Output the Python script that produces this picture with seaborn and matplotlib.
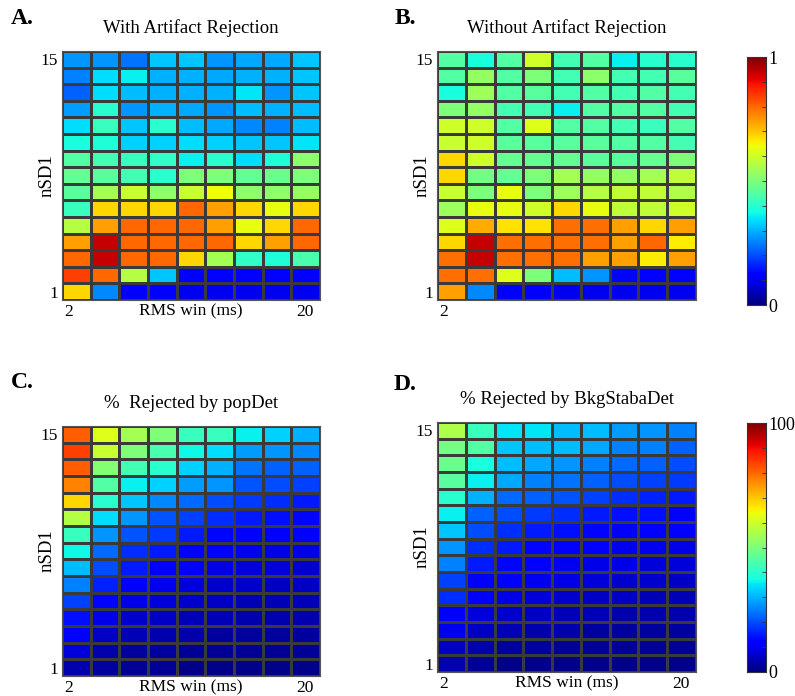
import matplotlib
matplotlib.use('Agg')
import matplotlib.pyplot as plt
import numpy as np
import pandas as pd
import seaborn as sns

plt.rcParams['font.family'] = ['Liberation Serif', 'DejaVu Serif']

# 行: nSD1 从 15 (上) 到 1 (下); 列: RMS win
nsd1 = list(range(15, 0, -1))
x_labels = ['2', '20']

with_rejection = [
    [0.27, 0.27, 0.24, 0.32, 0.32, 0.27, 0.29, 0.29, 0.32],
    [0.25, 0.34, 0.36, 0.30, 0.30, 0.29, 0.30, 0.30, 0.32],
    [0.22, 0.34, 0.31, 0.30, 0.30, 0.30, 0.35, 0.27, 0.32],
    [0.28, 0.40, 0.27, 0.30, 0.29, 0.27, 0.31, 0.30, 0.31],
    [0.34, 0.42, 0.32, 0.40, 0.31, 0.29, 0.26, 0.25, 0.31],
    [0.38, 0.39, 0.33, 0.33, 0.34, 0.33, 0.32, 0.32, 0.35],
    [0.45, 0.43, 0.42, 0.41, 0.36, 0.40, 0.34, 0.39, 0.52],
    [0.47, 0.46, 0.43, 0.40, 0.50, 0.50, 0.47, 0.48, 0.50],
    [0.46, 0.55, 0.59, 0.52, 0.59, 0.64, 0.52, 0.52, 0.53],
    [0.42, 0.68, 0.68, 0.68, 0.80, 0.74, 0.68, 0.63, 0.68],
    [0.57, 0.74, 0.80, 0.80, 0.80, 0.74, 0.63, 0.68, 0.80],
    [0.74, 0.94, 0.80, 0.80, 0.80, 0.80, 0.68, 0.74, 0.80],
    [0.80, 0.94, 0.80, 0.80, 0.68, 0.55, 0.41, 0.39, 0.44],
    [0.84, 0.80, 0.57, 0.32, 0.12, 0.12, 0.11, 0.11, 0.11],
    [0.68, 0.26, 0.11, 0.11, 0.10, 0.10, 0.10, 0.10, 0.10],
]

without_rejection = [
    [0.45, 0.38, 0.45, 0.60, 0.43, 0.45, 0.36, 0.40, 0.40],
    [0.45, 0.53, 0.45, 0.50, 0.43, 0.52, 0.43, 0.43, 0.46],
    [0.38, 0.54, 0.45, 0.46, 0.43, 0.45, 0.43, 0.45, 0.43],
    [0.50, 0.53, 0.43, 0.43, 0.36, 0.45, 0.45, 0.45, 0.43],
    [0.60, 0.60, 0.45, 0.62, 0.45, 0.45, 0.43, 0.42, 0.45],
    [0.59, 0.60, 0.46, 0.46, 0.46, 0.46, 0.45, 0.45, 0.43],
    [0.68, 0.60, 0.47, 0.47, 0.47, 0.46, 0.46, 0.47, 0.50],
    [0.68, 0.49, 0.47, 0.50, 0.55, 0.53, 0.53, 0.55, 0.58],
    [0.59, 0.50, 0.63, 0.50, 0.54, 0.57, 0.58, 0.58, 0.56],
    [0.54, 0.63, 0.63, 0.60, 0.68, 0.63, 0.58, 0.58, 0.60],
    [0.62, 0.73, 0.67, 0.67, 0.79, 0.79, 0.74, 0.68, 0.74],
    [0.68, 0.94, 0.79, 0.79, 0.79, 0.79, 0.74, 0.80, 0.66],
    [0.79, 0.94, 0.79, 0.79, 0.79, 0.74, 0.74, 0.66, 0.74],
    [0.79, 0.79, 0.62, 0.50, 0.31, 0.27, 0.13, 0.12, 0.12],
    [0.74, 0.26, 0.11, 0.11, 0.10, 0.10, 0.10, 0.10, 0.10],
]

pct_popdet = [
    [81, 62, 55, 50, 42, 42, 36, 33, 30],
    [84, 59, 50, 44, 37, 34, 28, 27, 26],
    [81, 51, 43, 40, 33, 30, 24, 22, 22],
    [77, 45, 36, 33, 28, 27, 21, 20, 19],
    [68, 40, 32, 26, 23, 20, 18, 17, 15],
    [57, 34, 27, 21, 19, 17, 15, 14, 13],
    [42, 27, 21, 18, 15, 13, 12, 11, 11],
    [37, 23, 17, 15, 12, 11, 10, 9, 9],
    [31, 20, 15, 12, 11, 9, 8, 8, 7],
    [25, 16, 12, 10, 8, 7, 7, 6, 6],
    [19, 13, 9, 8, 7, 6, 5, 5, 5],
    [14, 9, 7, 6, 5, 5, 4, 4, 4],
    [11, 6, 5, 4, 4, 3, 3, 3, 3],
    [8, 4, 3, 3, 2, 2, 2, 2, 2],
    [4, 3, 2, 2, 1, 1, 1, 1, 1],
]

pct_bkgstaba = [
    [56, 42, 35, 35, 31, 31, 28, 27, 25],
    [49, 45, 32, 31, 31, 29, 25, 25, 22],
    [48, 38, 31, 29, 27, 25, 23, 22, 20],
    [46, 36, 29, 25, 24, 22, 20, 19, 18],
    [40, 30, 23, 22, 21, 19, 17, 16, 15],
    [36, 22, 20, 18, 17, 15, 14, 14, 12],
    [32, 20, 17, 15, 14, 13, 12, 11, 11],
    [27, 17, 15, 13, 12, 11, 10, 10, 9],
    [25, 15, 13, 11, 10, 9, 9, 8, 8],
    [19, 12, 11, 10, 9, 8, 7, 7, 6],
    [17, 11, 9, 8, 7, 6, 6, 5, 5],
    [12, 8, 7, 6, 5, 5, 4, 4, 4],
    [10, 6, 5, 4, 4, 3, 3, 3, 3],
    [6, 4, 3, 3, 2, 2, 2, 2, 2],
    [4, 2, 1, 1, 1, 1, 1, 1, 1],
]

W, H = 795, 696
fig = plt.figure(figsize=(W / 100, H / 100), dpi=100)


def box(l, t, r, b):
    return [l / W, 1 - b / H, (r - l) / W, (b - t) / H]


panels = [
    dict(data=with_rejection, rect=box(62, 51, 320, 300), vmax=1, letter='A.',
         lxy=(11, 18), title='With Artifact Rejection', xlab=True,
         xt=x_labels, cax=None),
    dict(data=without_rejection, rect=box(437, 51, 696, 300), vmax=1, letter='B.',
         lxy=(395, 19), title='Without Artifact Rejection', xlab=False,
         xt=['2'], cax=box(747, 57, 766, 305), ct=['0', '1']),
    dict(data=pct_popdet, rect=box(62, 426, 320, 676), vmax=100, letter='C.',
         lxy=(11, 382), title='%  Rejected by popDet', xlab=True,
         xt=x_labels, cax=None),
    dict(data=pct_bkgstaba, rect=box(437, 422, 696, 672), vmax=100, letter='D.',
         lxy=(394, 385), title='% Rejected by BkgStabaDet', xlab=True,
         xt=x_labels, cax=box(747, 423, 766, 672), ct=['0', '100']),
]

for p in panels:
    ax = fig.add_axes(p['rect'])
    df = pd.DataFrame(p['data'], index=nsd1)
    cax = fig.add_axes(p['cax']) if p['cax'] else None
    sns.heatmap(df, ax=ax, cmap='jet', vmin=0, vmax=p['vmax'],
                linewidths=0.85, linecolor='#3a3a3a',
                cbar=cax is not None, cbar_ax=cax,
                xticklabels=False, yticklabels=False)
    ax.set_xticks([0.22, 8.47][:len(p['xt'])])
    ax.set_xticklabels(p['xt'], fontsize=12.5, rotation=0)
    ax.set_yticks([0.5, 14.5])
    ax.set_yticklabels(['15', '1'], fontsize=12.5, rotation=0)
    ax.tick_params(axis='both', length=0, pad=3)
    for s in ax.spines.values():
        s.set_visible(True)
        s.set_color('#555555')
        s.set_linewidth(0.8)
    ax.set_ylabel('nSD1', fontsize=13.5)
    ax.yaxis.set_label_coords(-0.025, 0.5)
    if p['xlab']:
        ax.set_xlabel('RMS win (ms)', fontsize=12.5)
        ax.xaxis.set_label_coords(0.5, -0.012)
    else:
        ax.set_xlabel('')
    ax.set_title(p['title'], fontsize=13.5, pad=13)
    lx, ly = p['lxy']
    fig.text(lx / W, 1 - ly / H, p['letter'], fontsize=17,
             fontweight='bold', ha='left', va='center')
    if cax is not None:
        cax.set_yticks([0, p['vmax']])
        cax.set_yticklabels(p['ct'], fontsize=13)
        cax.set_yticks(np.linspace(0, p['vmax'], 11), minor=True)
        cax.tick_params(axis='y', which='major', length=0, pad=2)
        cax.tick_params(axis='y', which='minor', length=3, direction='in',
                        left=False, right=True, color='#333333')
        for s in cax.spines.values():
            s.set_visible(True)
            s.set_color('#333333')

fig.savefig('out.png', dpi=100)
